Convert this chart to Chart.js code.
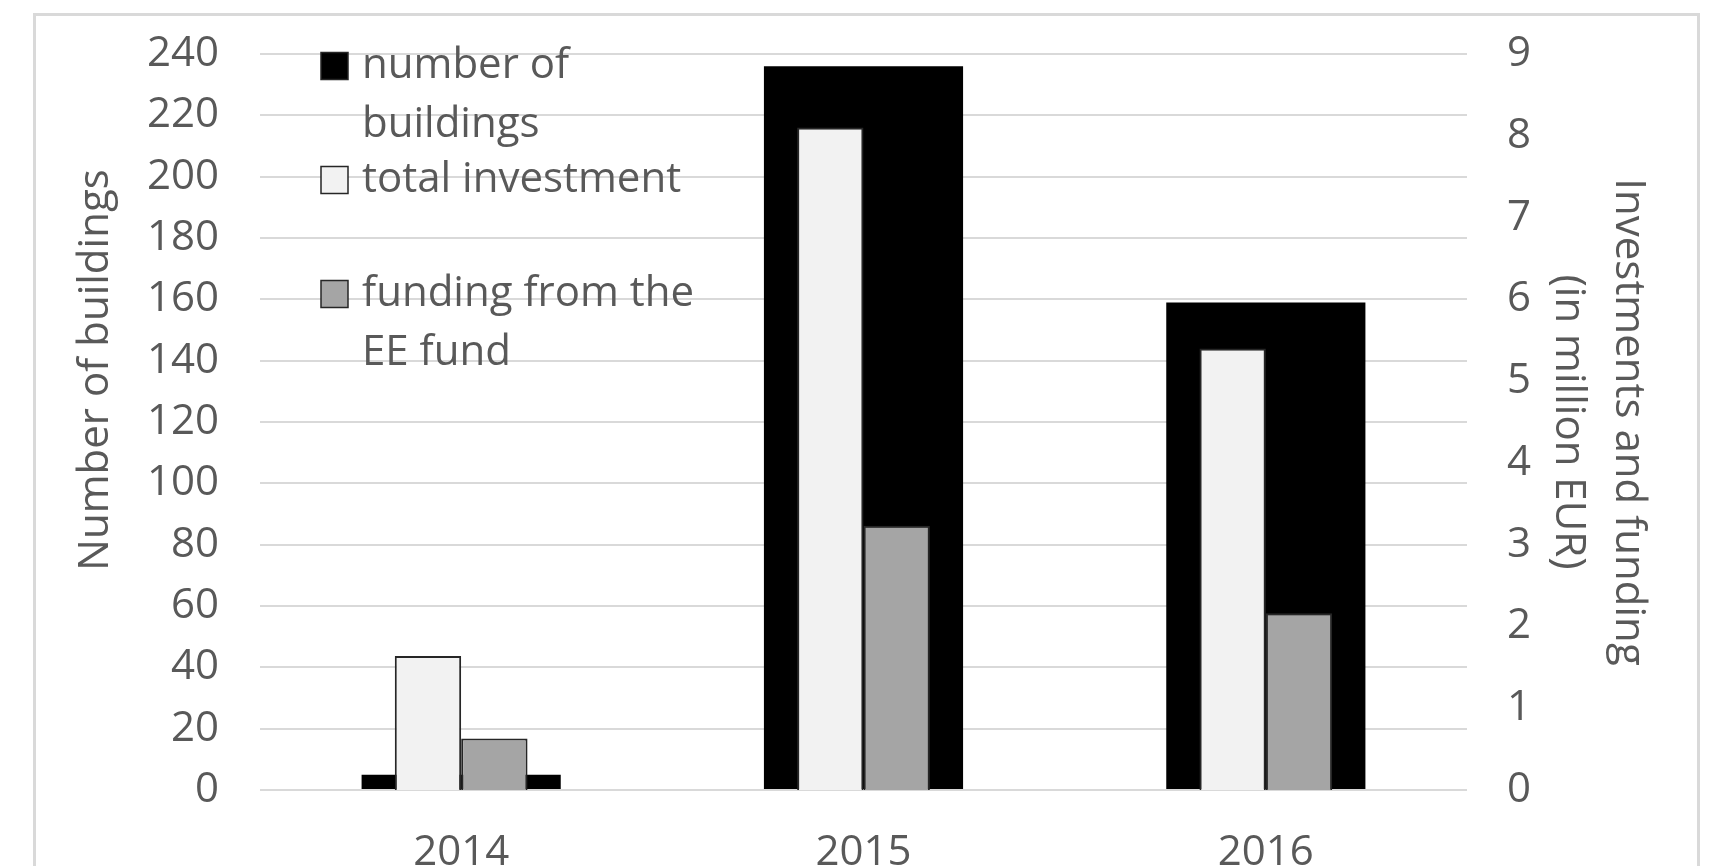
<!DOCTYPE html>
<html>
<head>
<meta charset="utf-8">
<script src="https://cdn.jsdelivr.net/npm/chart.js@4"></script>
<style>
  html, body { margin: 0; padding: 0; background: #fff; overflow: hidden; }
  #wrap { position: absolute; left: 0; top: 0; width: 1719px; height: 900px; }
</style>
</head>
<body>
<div id="wrap"><canvas id="myChart"></canvas></div>
<script>
// data
const years = ['2014', '2015', '2016'];
const buildings = [5, 236, 159];              // left axis
const totalInvestment = [1.64, 8.10, 5.40];   // right axis, million EUR
const eeFunding = [0.63, 3.23, 2.16];         // right axis, million EUR
const seriesNames = ['number of buildings', 'total investment', 'funding from the EE fund'];
const leftTitle = 'Number of buildings';
const rightTitle = ['Investments and funding', '(in million EUR)'];

const grey = '#595959';
const fontFam = '"Open Sans", Lato, sans-serif';
const fontSize = 42;

// frame round the whole chart
const framePlugin = {
  id: 'frame',
  beforeDraw(chart) {
    const ctx = chart.ctx;
    ctx.save();
    ctx.strokeStyle = '#d9d9d9';
    ctx.lineWidth = 3;
    ctx.strokeRect(34.5, 14.5, 1664, 1000);
    ctx.restore();
  }
};

// axis titles and the legend inside the plot, Excel style
const extrasPlugin = {
  id: 'extras',
  afterDraw(chart) {
    const ctx = chart.ctx;
    const area = chart.chartArea;
    ctx.save();
    ctx.fillStyle = grey;
    ctx.font = fontSize + 'px ' + fontFam;
    ctx.textAlign = 'center';
    ctx.textBaseline = 'middle';

    ctx.save();
    ctx.translate(96, 370);
    ctx.rotate(-Math.PI / 2);
    ctx.fillText(leftTitle, 0, 0);
    ctx.restore();

    ctx.save();
    ctx.translate(1598, (area.top + area.bottom) / 2);
    ctx.rotate(Math.PI / 2);
    ctx.fillText(rightTitle[0], 0, -30);
    ctx.fillText(rightTitle[1], 0, 30);
    ctx.restore();

    // legend
    ctx.textAlign = 'left';
    chart.data.datasets.forEach(function(ds, i) {
      const y0 = 66 + i * 114;
      ctx.fillStyle = ds.backgroundColor;
      ctx.fillRect(321, y0 - 13.5, 27, 27);
      ctx.strokeStyle = '#262626';
      ctx.lineWidth = 1.5;
      ctx.strokeRect(321, y0 - 13.5, 27, 27);
      // wrap the label
      const words = ds.label.split(' ');
      let lines = [];
      let cur = '';
      words.forEach(function(w) {
        const test = cur ? cur + ' ' + w : w;
        if (ctx.measureText(test).width > 345 && cur) {
          lines.push(cur);
          cur = w;
        } else {
          cur = test;
        }
      });
      lines.push(cur);
      ctx.fillStyle = grey;
      lines.forEach(function(l, k) {
        ctx.fillText(l, 362, y0 + k * 59);
      });
    });
    ctx.restore();
  }
};

function noPad(s) {
  s.paddingTop = 0;
  s.paddingBottom = 0;
  s.paddingLeft = 0;
  s.paddingRight = 0;
}

const ctx = document.getElementById('myChart').getContext('2d');
const chart = new Chart(ctx, {
  type: 'bar',
  data: {
    labels: years,
    datasets: [{
      label: seriesNames[0],
      data: buildings,
      yAxisID: 'y',
      backgroundColor: '#000000',
      borderWidth: 0,
      grouped: false,
      categoryPercentage: 1,
      barPercentage: 0.495,
      order: 1
    }, {
      label: seriesNames[1],
      data: totalInvestment,
      yAxisID: 'y1',
      backgroundColor: '#f2f2f2',
      borderColor: '#262626',
      borderWidth: 2,
      categoryPercentage: 0.33,
      barPercentage: 1,
      order: 0
    }, {
      label: seriesNames[2],
      data: eeFunding,
      yAxisID: 'y1',
      backgroundColor: '#a5a5a5',
      borderColor: '#262626',
      borderWidth: 2,
      categoryPercentage: 0.33,
      barPercentage: 1,
      order: 0
    }]
  },
  options: {
    responsive: true,
    maintainAspectRatio: false,
    animation: false,
    layout: { padding: { top: 54, left: 0, right: 0, bottom: 0 } },
    plugins: {
      legend: { display: false },
      tooltip: { enabled: false }
    },
    scales: {
      x: {
        grid: { display: false },
        border: { display: false },
        ticks: { color: grey, font: { size: fontSize, family: fontFam }, padding: 30 },
        afterFit(s) { s.height = 110; noPad(s); }
      },
      y: {
        position: 'left',
        min: 0,
        max: 240,
        ticks: { stepSize: 20, color: grey, font: { size: fontSize, family: fontFam }, padding: 41 },
        grid: { color: '#d9d9d9', lineWidth: 2, drawTicks: false },
        border: { display: false },
        afterFit(s) { s.width = 260; noPad(s); }
      },
      y1: {
        position: 'right',
        min: 0,
        max: 9,
        ticks: { stepSize: 1, color: grey, font: { size: fontSize, family: fontFam }, padding: 40 },
        grid: { display: false, drawTicks: false },
        border: { display: false },
        afterFit(s) { s.width = 252; noPad(s); }
      }
    }
  },
  plugins: [framePlugin, extrasPlugin]
});
</script>
</body>
</html>
